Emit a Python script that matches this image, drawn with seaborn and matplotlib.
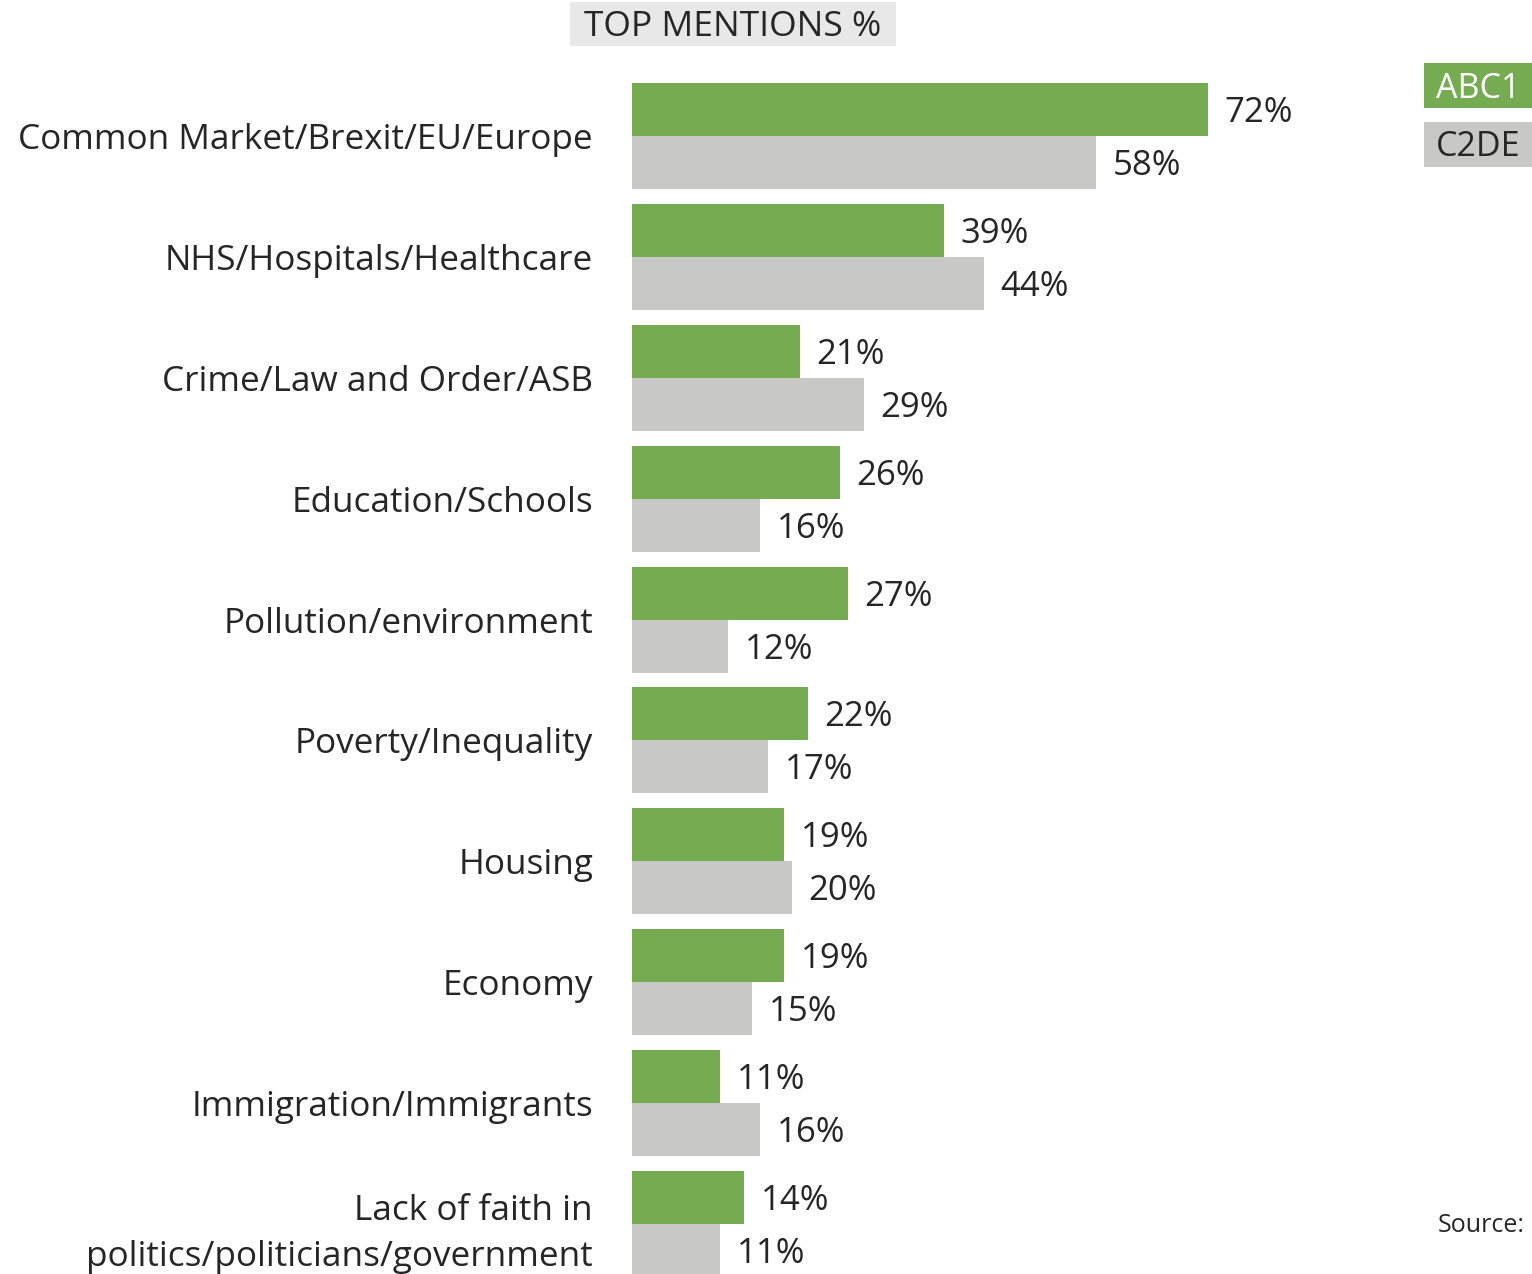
# Top mentions by social grade - horizontal grouped bar chart

import pandas as pd
import matplotlib.pyplot as plt
from matplotlib.patches import Rectangle
import seaborn as sns

# Chart data
categories = ['Common Market/Brexit/EU/Europe', 'NHS/Hospitals/Healthcare',
              'Crime/Law and Order/ASB', 'Education/Schools',
              'Pollution/environment', 'Poverty/Inequality', 'Housing',
              'Economy', 'Immigration/Immigrants',
              'Lack of faith in\npolitics/politicians/government']
abc1 = [72, 39, 21, 26, 27, 22, 19, 19, 11, 14]
c2de = [58, 44, 29, 16, 12, 17, 20, 15, 16, 11]
groups = ['ABC1', 'C2DE']

GREEN = '#75ab51'
GREY = '#c8c8c6'
TEXT = '#262626'
W, H = 1532, 1274

# Long format table for seaborn
df = pd.DataFrame({
    'category': categories * 2,
    'value': abc1 + c2de,
    'group': [groups[0]] * len(categories) + [groups[1]] * len(categories),
})

sns.set_theme(style='white')
plt.rcParams['font.family'] = ['Open Sans', 'DejaVu Sans']

fig = plt.figure(figsize=(W / 100, H / 100), dpi=100)
ax = fig.add_axes([632 / W, 0, 896 / W, 1])

sns.barplot(data=df, y='category', x='value', hue='group', order=categories,
            hue_order=groups, palette=[GREEN, GREY], width=0.877,
            orient='h', ax=ax, legend=False, saturation=1, linewidth=0)

ax.set_xlim(0, 112)
ax.set_ylim(9.413, -1.125)
ax.set_xlabel('')
ax.set_ylabel('')
ax.set_xticks([])
sns.despine(ax=ax, left=True, bottom=True)
ax.tick_params(axis='y', length=0, pad=28, labelsize=25.3, labelcolor=TEXT)
for lbl in ax.get_yticklabels():
    lbl.set_horizontalalignment('right')
    lbl.set_multialignment('right')
    lbl.set_linespacing(1.45)

# value labels at end of each bar, nudged down a touch
for cont in ax.containers:
    anns = ax.bar_label(cont, labels=[f'{int(v)}%' for v in cont.datavalues],
                        padding=12, fontsize=25, color=TEXT)
    for a in anns:
        a.xyann = (12, -2.5)


def box_text(x0, y0, x1, y1, txt, fc, tc, size, dy=0):
    # rectangle given in pixel coords from the top-left, text centred inside
    fig.patches.append(Rectangle((x0 / W, 1 - y1 / H), (x1 - x0) / W,
                                 (y1 - y0) / H, transform=fig.transFigure,
                                 facecolor=fc, edgecolor='none'))
    fig.text((x0 + x1) / 2 / W, 1 - ((y0 + y1) / 2 + dy) / H, txt,
             ha='center', va='center', fontsize=size, color=tc)


box_text(570, 2, 896, 46, 'TOP MENTIONS %', '#e8e8e8', TEXT, 25.5, dy=3)
box_text(1424, 63, 1532, 108, 'ABC1', GREEN, 'white', 24.5, dy=4)
box_text(1424, 122, 1532, 167, 'C2DE', GREY, TEXT, 24.5, dy=3)

fig.text(1525 / W, 1 - 1226 / H, 'Source:', ha='right', va='center',
         fontsize=18, color=TEXT)

fig.savefig('out.png', dpi=100)
plt.close(fig)
